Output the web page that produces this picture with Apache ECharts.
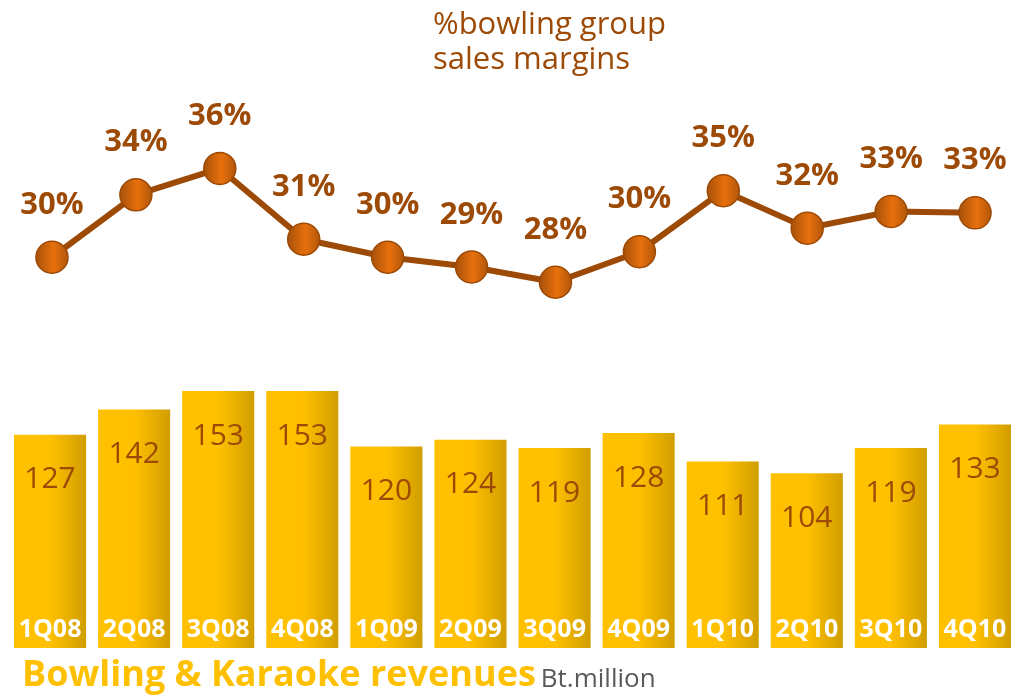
<!DOCTYPE html>
<html>
<head>
<meta charset="utf-8">
<script src="https://cdn.jsdelivr.net/npm/echarts@6/dist/echarts.min.js"></script>
<style>
  html, body { margin: 0; padding: 0; background: #ffffff; }
  #chart { width: 1017px; height: 695px; }
</style>
</head>
<body>
<div id="chart"></div>
<script>
// Quarters shown along the bottom
const quarters = ['1Q08', '2Q08', '3Q08', '4Q08', '1Q09', '2Q09', '3Q09', '4Q09', '1Q10', '2Q10', '3Q10', '4Q10'];
// Bowling & Karaoke revenues, Bt.million
const revenues = [127, 142, 153, 153, 120, 124, 119, 128, 111, 104, 119, 133];
// Bowling group sales margin, %
const margins = [29.8, 34.3, 36.2, 31.1, 29.8, 29.1, 28.0, 30.2, 34.6, 31.9, 33.1, 33.0];

const brown = '#9C4A06';
const font = 'Open Sans';

const barFill = new echarts.graphic.LinearGradient(0, 0, 1, 0, [
  { offset: 0, color: '#FFC000' },
  { offset: 0.5, color: '#FFC000' },
  { offset: 1, color: '#D09E00' }
]);
const ballFill = new echarts.graphic.LinearGradient(0, 0, 1, 0, [
  { offset: 0, color: '#A4500A' },
  { offset: 0.55, color: '#E8700C' },
  { offset: 1, color: '#AE560A' }
]);

const chart = echarts.init(document.getElementById('chart'));
chart.setOption({
  backgroundColor: '#ffffff',
  animation: false,
  title: [
    {
      text: '%bowling group\nsales margins',
      left: 433, top: 8, padding: 0,
      textStyle: { fontFamily: font, fontSize: 31, fontWeight: 'normal', color: brown, lineHeight: 35 }
    },
    {
      text: '{a|Bowling & Karaoke revenues} {b|Bt.million}',
      left: 22, top: 650, padding: 0,
      textStyle: {
        rich: {
          a: { fontFamily: font, fontSize: 36, fontWeight: 'bold', color: '#FFC000', lineHeight: 44, verticalAlign: 'bottom' },
          b: { fontFamily: font, fontSize: 26, fontWeight: 'normal', color: '#595959', lineHeight: 44, verticalAlign: 'bottom', padding: [0, 0, 1, 0] }
        }
      }
    }
  ],
  grid: [
    { left: 8, right: 0, top: 312, bottom: 47 },
    { left: 10, right: -2, top: 115.7, bottom: 301.7 }
  ],
  xAxis: [
    {
      gridIndex: 0, type: 'category', data: quarters, z: 10,
      axisLine: { show: false }, axisTick: { show: false },
      axisLabel: { inside: true, margin: 6, color: '#ffffff', fontFamily: font, fontWeight: 'bold', fontSize: 25 }
    },
    {
      gridIndex: 1, type: 'category', data: quarters, show: false
    }
  ],
  yAxis: [
    { gridIndex: 0, type: 'value', min: 0, max: 200, show: false, splitLine: { show: false } },
    { gridIndex: 1, type: 'value', min: 20, max: 40, show: false, splitLine: { show: false } }
  ],
  series: [
    {
      type: 'bar', xAxisIndex: 0, yAxisIndex: 0, data: revenues,
      barCategoryGap: '14.3%',
      itemStyle: { color: barFill },
      label: {
        show: true, position: 'insideTop', distance: 30,
        color: brown, fontFamily: font, fontSize: 30
      }
    },
    {
      type: 'line', xAxisIndex: 1, yAxisIndex: 1, data: margins,
      lineStyle: { color: brown, width: 6 },
      symbol: 'circle', symbolSize: 32,
      itemStyle: { color: ballFill, borderColor: '#9C4A06', borderWidth: 1.5 },
      label: {
        show: true, position: 'top', distance: 20,
        color: brown, fontFamily: font, fontSize: 31, fontWeight: 'bold',
        formatter: p => Math.round(p.value) + '%'
      },
      z: 5
    }
  ]
});
</script>
</body>
</html>
